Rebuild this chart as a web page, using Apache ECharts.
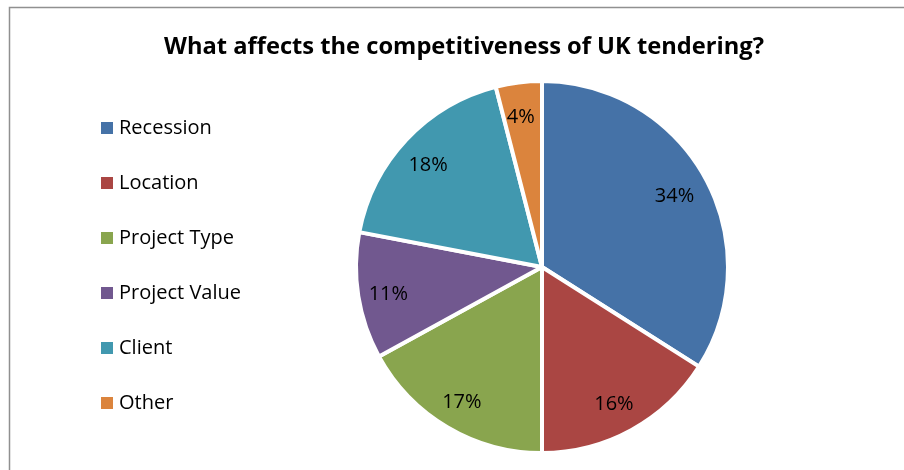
<!DOCTYPE html>
<html>
<head>
<meta charset="utf-8">
<script src="https://cdn.jsdelivr.net/npm/echarts@6/dist/echarts.min.js"></script>
<style>
  html, body { margin: 0; padding: 0; background: #fff; }
  #chart { width: 904px; height: 470px; }
</style>
</head>
<body>
<div id="chart"></div>
<script>
// Factors affecting UK tender competitiveness (share of responses, %)
const categories = ['Recession', 'Location', 'Project Type', 'Project Value', 'Client', 'Other'];
const shares = [34, 16, 17, 11, 18, 4];
const sliceColors = ['#4572A7', '#AA4643', '#89A54E', '#71588F', '#4198AF', '#DB843D'];

const FONT = '"Open Sans", "Noto Sans", "DejaVu Sans", sans-serif';

const pieData = categories.map((name, i) => ({
  name: name,
  value: shares[i],
  itemStyle: { color: sliceColors[i] }
}));

const chart = echarts.init(document.getElementById('chart'), null, { renderer: 'canvas' });

chart.setOption({
  backgroundColor: '#ffffff',
  animation: false,
  title: {
    text: 'What affects the competitiveness of UK tendering?',
    left: 459,
    textAlign: 'center',
    top: 30,
    textStyle: { fontFamily: FONT, fontWeight: 'bold', fontSize: 23.7, color: '#000' }
  },
  legend: {
    orient: 'vertical',
    left: 99,
    top: 118,
    padding: 0,
    icon: 'rect',
    itemWidth: 14,
    itemHeight: 14,
    itemGap: 35,
    data: categories.map((name, i) => ({ name: name, itemStyle: { color: sliceColors[i] } })),
    textStyle: { fontFamily: FONT, fontSize: 20, color: '#000', lineHeight: 19 },
    selectedMode: false
  },
  graphic: [{
    type: 'rect',
    shape: { x: 9.5, y: 7.5, width: 920, height: 500 },
    style: { fill: 'none', stroke: '#909090', lineWidth: 1.5 },
    silent: true
  }],
  series: [
    {
      type: 'pie',
      center: [542, 267],
      radius: 186,
      startAngle: 90,
      clockwise: true,
      data: pieData,
      label: { show: false },
      labelLine: { show: false },
      itemStyle: { borderColor: '#ffffff', borderWidth: 4 },
      emphasis: { disabled: true }
    },
    {
      // transparent ring used only to place the percentage labels
      type: 'pie',
      center: [540, 270],
      radius: [115, 186],
      startAngle: 90,
      clockwise: true,
      silent: true,
      legendHoverLink: false,
      data: categories.map((name, i) => ({ name: name, value: shares[i] })),
      itemStyle: { color: 'rgba(0,0,0,0)', borderWidth: 0 },
      label: {
        show: true,
        position: 'inside',
        formatter: '{c}%',
        fontFamily: FONT,
        fontSize: 20,
        color: '#000'
      },
      labelLine: { show: false },
      emphasis: { disabled: true }
    }
  ]
});
</script>
</body>
</html>
